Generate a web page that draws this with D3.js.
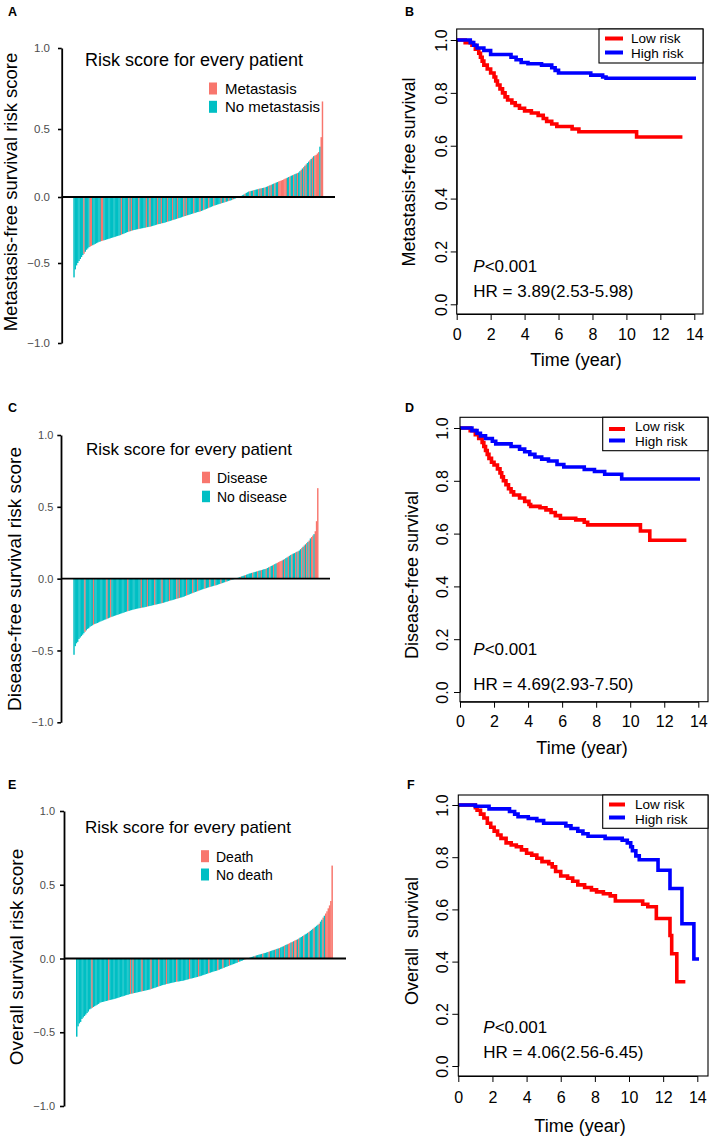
<!DOCTYPE html>
<html><head><meta charset="utf-8">
<script src="https://cdn.jsdelivr.net/npm/d3@7"></script>
<style>
body{margin:0;background:#fff}
svg{display:block}
text{font-family:"Liberation Sans",Arial,Helvetica,sans-serif}
</style>
</head><body>
<svg id="c" width="709" height="1138"></svg>
<script>
// ---------------- DATA ----------------
const scoreTicks = [-1, -0.5, 0, 0.5, 1];
const scoreTickLabels = ["\u22121.0", "\u22120.5", "0.0", "0.5", "1.0"];
const kmXTicks = [0, 2, 4, 6, 8, 10, 12, 14];
const kmYTicks = [0, 0.2, 0.4, 0.6, 0.8, 1.0];
const kmYTickLabels = ["0.0", "0.2", "0.4", "0.6", "0.8", "1.0"];

// Panel A: metastasis-free survival risk score (sorted patients)
const riskA = [-0.59,-0.54,-0.515,-0.5,-0.485,-0.47,-0.455,-0.44,-0.43,-0.415,-0.40,-0.39,-0.38,-0.375,-0.37,-0.365,-0.36,-0.355,-0.35,-0.345,-0.34,
-0.337,-0.334,-0.331,-0.328,-0.325,-0.322,-0.319,-0.316,-0.313,-0.31,-0.307,-0.304,-0.301,-0.298,
-0.295,-0.292,-0.289,-0.285,-0.281,-0.277,-0.273,-0.269,-0.265,-0.262,-0.259,-0.256,-0.253,-0.25,
-0.248,-0.246,-0.244,-0.242,-0.24,-0.238,-0.236,-0.234,-0.232,-0.23,-0.228,-0.226,-0.225,
-0.222,-0.219,-0.216,-0.213,-0.21,-0.207,-0.205,-0.203,-0.2,-0.198,-0.196,-0.193,-0.19,
-0.187,-0.184,-0.181,-0.178,-0.175,-0.172,-0.169,-0.166,-0.163,-0.16,-0.157,-0.154,-0.15,
-0.147,-0.144,-0.141,-0.138,-0.135,-0.132,-0.129,-0.126,-0.123,-0.12,-0.117,-0.114,-0.112,-0.11,
-0.106,-0.102,-0.098,-0.094,-0.09,-0.086,-0.082,-0.078,-0.074,-0.07,-0.066,-0.063,-0.06,
-0.057,-0.054,-0.051,-0.048,-0.045,-0.042,-0.039,-0.036,-0.033,-0.03,-0.027,-0.024,-0.02,
-0.016,-0.012,-0.008,-0.005,-0.002,
0.003,0.008,0.013,0.018,0.024,0.03,0.035,0.04,
0.042,0.045,0.047,0.05,0.052,0.055,0.057,0.06,0.062,0.064,0.066,0.068,0.07,
0.074,0.078,0.082,0.086,0.09,0.094,0.098,0.102,0.106,0.11,0.114,0.118,0.121,0.125,
0.129,0.134,0.138,0.142,0.147,0.151,0.156,0.16,
0.164,0.168,0.172,0.176,0.18,
0.19,0.2,0.21,0.22,0.23,0.24,0.25,0.26,
0.27,0.28,0.29,0.3,0.305,0.31,0.32,
0.33,0.37,0.44,0.67];
const eventsA = [8,13,14,22,23,38,44,46,52,58,61,67,70,75,79,83,88,90,96,101,104,108,112,118,121,124,127,130,
137,141,144,148,150,153,156,158,161,164,165,166,167,168,169,170,173,176,179,182,184,186,189,191,193,194,195,196,198,199];

// Panel C: disease-free survival risk score
const riskC = [-0.53,-0.47,-0.45,-0.44,-0.42,-0.41,-0.40,-0.39,-0.38,-0.37,-0.36,-0.35,-0.345,-0.335,-0.33,
-0.325,-0.32,-0.315,-0.312,-0.309,-0.305,-0.30,
-0.297,-0.293,-0.29,-0.286,-0.283,-0.279,-0.276,-0.272,-0.268,-0.265,-0.262,-0.259,-0.256,-0.253,
-0.25,-0.247,-0.244,-0.241,-0.238,-0.235,-0.232,-0.229,-0.226,-0.224,-0.221,-0.219,-0.216,-0.214,
-0.212,-0.21,-0.208,-0.206,-0.205,-0.203,-0.201,-0.2,-0.198,-0.196,-0.194,-0.192,-0.19,
-0.188,-0.186,-0.184,-0.182,-0.18,-0.178,-0.176,-0.174,-0.172,-0.17,-0.168,-0.165,-0.162,-0.16,
-0.157,-0.155,-0.152,-0.15,-0.147,-0.145,-0.142,-0.14,-0.137,-0.135,-0.132,-0.13,-0.127,
-0.124,-0.12,-0.117,-0.113,-0.11,-0.106,-0.103,-0.1,-0.096,-0.093,-0.09,-0.087,-0.083,-0.08,
-0.077,-0.074,-0.071,-0.069,-0.066,-0.063,-0.06,-0.058,-0.055,-0.053,-0.05,-0.048,-0.046,
-0.043,-0.04,-0.037,-0.034,-0.031,-0.028,-0.025,-0.022,-0.019,-0.016,-0.013,-0.01,-0.007,
-0.005,-0.003,-0.001,
0.003,0.006,0.01,0.013,0.016,0.019,0.022,0.025,0.028,0.031,0.035,
0.037,0.04,0.042,0.045,0.047,0.05,0.052,0.055,0.057,0.06,0.062,0.065,0.067,0.07,
0.074,0.079,0.083,0.088,0.092,0.097,0.101,0.106,0.11,0.115,0.119,0.123,0.127,
0.132,0.137,0.143,0.148,0.154,0.159,0.165,0.17,
0.174,0.178,0.183,0.187,0.191,0.196,
0.205,0.214,0.222,0.231,0.239,0.248,0.256,0.265,
0.28,0.29,0.3,0.31,
0.33,0.40,0.63];
const eventsC = [9,16,27,30,44,55,60,66,72,78,84,86,92,97,101,107,111,115,120,124,128,136,140,146,150,153,157,160,163,
166,167,168,169,170,172,175,178,181,183,186,188,190,192,194,195,197,198,199];

// Panel E: overall survival risk score
const riskE = [-0.53,-0.46,-0.44,-0.43,-0.41,-0.40,-0.39,-0.38,-0.37,-0.36,-0.345,-0.34,
-0.335,-0.329,-0.323,-0.318,-0.313,-0.308,-0.30,
-0.297,-0.295,-0.293,-0.29,-0.288,-0.286,-0.283,-0.281,-0.279,-0.277,-0.275,-0.272,-0.27,
-0.267,-0.264,-0.261,-0.258,-0.256,-0.253,-0.25,-0.247,-0.245,-0.242,-0.24,-0.238,-0.236,
-0.234,-0.232,-0.23,-0.228,-0.226,-0.224,-0.222,-0.22,-0.218,-0.216,-0.214,-0.212,-0.21,
-0.207,-0.204,-0.201,-0.198,-0.195,-0.192,-0.189,-0.186,-0.183,-0.18,-0.178,-0.176,-0.173,
-0.171,-0.169,-0.167,-0.165,-0.163,-0.161,-0.159,-0.157,-0.156,-0.155,-0.153,-0.152,-0.15,
-0.148,-0.145,-0.143,-0.141,-0.138,-0.136,-0.134,-0.132,-0.129,-0.127,-0.125,-0.122,-0.12,
-0.117,-0.114,-0.111,-0.108,-0.105,-0.102,-0.099,-0.096,-0.093,-0.09,-0.087,-0.085,-0.083,
-0.079,-0.076,-0.072,-0.069,-0.065,-0.062,-0.058,-0.055,-0.051,-0.048,-0.045,-0.041,-0.038,
-0.035,-0.031,-0.028,-0.024,-0.021,-0.017,-0.014,-0.01,-0.007,-0.004,-0.001,
0.003,0.006,0.009,0.012,0.015,0.018,0.021,0.023,0.026,0.028,0.031,0.033,0.036,0.038,
0.041,0.044,0.047,0.05,0.053,0.056,0.059,0.062,0.065,0.068,0.071,0.075,0.079,
0.083,0.088,0.092,0.096,0.1,0.104,0.109,0.113,0.117,0.122,0.126,0.13,0.135,
0.141,0.146,0.152,0.157,0.163,0.168,0.174,0.18,
0.187,0.194,0.201,0.208,0.215,0.222,0.229,0.236,
0.25,0.263,0.277,0.29,
0.305,0.32,0.34,
0.36,0.39,
0.63];
const eventsE = [12,25,42,44,51,58,64,70,78,88,95,103,110,114,119,126,131,139,145,150,155,158,162,165,166,168,170,171,173,
177,181,185,189,192,194,195,196,197,198,199];

// Kaplan-Meier curves: [time (year), survival]
const lowB = [[0,1],[0.5,0.99],[0.9,0.98],[1.1,0.965],[1.3,0.95],[1.4,0.935],[1.5,0.92],[1.6,0.905],[1.8,0.89],[2.0,0.875],[2.2,0.86],[2.3,0.845],[2.4,0.83],[2.55,0.815],[2.7,0.8],[2.85,0.785],[3.0,0.773],[3.25,0.762],[3.45,0.752],[3.7,0.742],[4.0,0.732],[4.4,0.724],[4.8,0.715],[5.1,0.703],[5.3,0.692],[5.6,0.682],[5.9,0.673],[6.8,0.663],[7.2,0.653],[10.6,0.633],[13.3,0.633]];
const highB = [[0,1],[0.8,0.99],[1.0,0.98],[1.2,0.97],[1.6,0.96],[2.0,0.945],[3.2,0.935],[3.5,0.925],[3.8,0.915],[4.2,0.91],[5.0,0.905],[5.6,0.895],[5.8,0.885],[6.0,0.875],[7.9,0.867],[8.6,0.86],[8.8,0.855],[14.1,0.855]];
const lowD = [[0,1],[0.6,0.99],[0.9,0.975],[1.1,0.96],[1.3,0.945],[1.4,0.93],[1.5,0.915],[1.6,0.9],[1.7,0.885],[1.85,0.87],[2.0,0.86],[2.2,0.845],[2.35,0.83],[2.45,0.815],[2.55,0.8],[2.7,0.785],[2.85,0.77],[3.0,0.758],[3.15,0.746],[3.5,0.735],[3.8,0.722],[4.05,0.71],[4.15,0.703],[4.7,0.698],[5.05,0.69],[5.35,0.68],[5.6,0.668],[5.9,0.658],[6.8,0.652],[7.3,0.643],[7.5,0.633],[10.6,0.61],[11.15,0.575],[13.3,0.575]];
const highD = [[0,1],[0.7,0.99],[1.0,0.98],[1.2,0.97],[1.5,0.96],[1.9,0.95],[2.1,0.94],[3.0,0.93],[3.5,0.92],[3.8,0.91],[4.1,0.90],[4.4,0.89],[4.8,0.882],[5.2,0.875],[5.7,0.862],[6.1,0.852],[7.3,0.843],[7.9,0.835],[8.5,0.825],[9.5,0.807],[14.1,0.807]];
const lowF = [[0,1],[1.0,0.99],[1.1,0.98],[1.3,0.965],[1.5,0.95],[1.7,0.93],[1.9,0.915],[2.1,0.9],[2.3,0.885],[2.5,0.872],[2.8,0.855],[3.1,0.847],[3.4,0.84],[3.7,0.828],[4.0,0.815],[4.3,0.808],[4.6,0.796],[4.9,0.783],[5.3,0.775],[5.5,0.763],[5.7,0.745],[6.0,0.728],[6.4,0.72],[6.7,0.708],[7.0,0.694],[7.4,0.684],[7.8,0.675],[8.1,0.667],[8.5,0.66],[8.9,0.652],[9.2,0.632],[10.8,0.62],[11.1,0.61],[11.6,0.565],[12.4,0.5],[12.5,0.43],[12.8,0.323],[13.3,0.323]];
const highF = [[0,1],[1.0,0.995],[1.8,0.985],[3.0,0.975],[3.3,0.965],[3.5,0.955],[4.1,0.948],[4.6,0.94],[5.0,0.93],[6.3,0.92],[6.6,0.91],[7.0,0.9],[7.3,0.89],[7.6,0.88],[8.6,0.872],[9.6,0.865],[9.9,0.855],[10.1,0.84],[10.2,0.825],[10.4,0.805],[10.6,0.79],[11.7,0.75],[12.4,0.68],[13.1,0.545],[13.8,0.41],[14.1,0.41]];

const kmLegend = ["Low risk", "High risk"];
const statB = ["P", "<0.001", "HR = 3.89(2.53-5.98)"];
const statD = ["P", "<0.001", "HR = 4.69(2.93-7.50)"];
const statF = ["P", "<0.001", "HR = 4.06(2.56-6.45)"];

// ---------------- DRAW ----------------
const FONT = '"Liberation Sans", Arial, Helvetica, sans-serif';
const TEAL = "#00BFC4", SALMON = "#F8766D";
const svg = d3.select("#c");

function letter(t, x, y) {
  svg.append("text").attr("x", x).attr("y", y).attr("font-weight", "bold")
    .attr("font-size", 12.5).attr("fill", "#000").text(t);
}

function barPanel(o) {
  const g = svg.append("g");
  const y = d3.scaleLinear().domain(o.yDomain).range(o.yRange);
  const x = d3.scaleBand().domain(d3.range(o.values.length)).range([o.x0, o.x1]).padding(0);
  const ev = new Set(o.events);
  g.selectAll("rect.bar").data(o.values).join("rect").attr("class", "bar")
    .attr("x", (d, i) => x(i)).attr("width", x.bandwidth() + 0.2)
    .attr("y", d => Math.min(y(d), y(0))).attr("height", d => Math.abs(y(d) - y(0)))
    .attr("fill", (d, i) => ev.has(i) ? SALMON : TEAL);
  g.append("line").attr("x1", o.axisX).attr("x2", o.zeroEnd).attr("y1", y(0)).attr("y2", y(0))
    .attr("stroke", "#000").attr("stroke-width", 1.8);
  const ax = d3.axisLeft(y).tickValues(scoreTicks).tickFormat((d, i) => scoreTickLabels[i])
    .tickSize(o.tickSize).tickSizeOuter(0).tickPadding(o.tickPad);
  const ga = g.append("g").attr("transform", `translate(${o.axisX},0)`).call(ax)
    .attr("font-family", FONT).attr("font-size", o.tickFont);
  ga.select(".domain").attr("stroke", "#000").attr("stroke-width", 1.8);
  ga.selectAll(".tick line").attr("stroke", "#000").attr("stroke-width", 1.6);
  ga.selectAll(".tick text").attr("fill", "#4D4D4D");
  // y label
  g.append("text").attr("transform", `translate(${o.ylabX},${o.ylabY}) rotate(-90)`)
    .attr("text-anchor", "middle").attr("font-size", o.ylabFont).attr("fill", "#000").text(o.ylab);
  // title
  g.append("text").attr("x", o.titleX).attr("y", o.titleY).attr("font-size", o.titleFont)
    .attr("fill", "#000").text("Risk score for every patient");
  // legend
  const lg = [[SALMON, o.legend[0], o.legY[0]], [TEAL, o.legend[1], o.legY[1]]];
  lg.forEach(([c, t, yy]) => {
    g.append("rect").attr("x", o.legX).attr("y", yy - o.sqH + 0.5).attr("width", 8).attr("height", o.sqH).attr("fill", c);
    g.append("text").attr("x", o.legTX).attr("y", yy).attr("font-size", o.legFont).attr("fill", "#000").text(t);
  });
}

function kmPanel(o) {
  const g = svg.append("g");
  const x = d3.scaleLinear().domain([0, 14]).range(o.xr);
  const y = d3.scaleLinear().domain([0, 1]).range(o.yr);
  const [bx0, by0, bx1, by1] = o.box;
  // curves
  const line = d3.line().x(d => x(d[0])).y(d => y(d[1])).curve(d3.curveStepAfter);
  g.append("path").attr("d", line(o.low)).attr("fill", "none").attr("stroke", "#FF0000").attr("stroke-width", 3.6);
  g.append("path").attr("d", line(o.high)).attr("fill", "none").attr("stroke", "#0000FF").attr("stroke-width", 3.6);
  // box
  g.append("rect").attr("x", bx0).attr("y", by0).attr("width", bx1 - bx0).attr("height", by1 - by0)
    .attr("fill", "none").attr("stroke", "#000").attr("stroke-width", 1.1);
  // x axis
  const xa = d3.axisBottom(x).tickValues(kmXTicks).tickSize(6).tickSizeOuter(0).tickPadding(o.xPad);
  const gx = g.append("g").attr("transform", `translate(0,${by1})`).call(xa)
    .attr("font-family", FONT).attr("font-size", 16);
  gx.select(".domain").attr("stroke", "#000");
  gx.selectAll(".tick line").attr("stroke", "#000");
  gx.selectAll(".tick text").attr("fill", "#000");
  // y axis
  const ya = d3.axisLeft(y).tickValues(kmYTicks).tickFormat((d, i) => kmYTickLabels[i]).tickSize(6).tickSizeOuter(0);
  const gy = g.append("g").attr("transform", `translate(${bx0},0)`).call(ya)
    .attr("font-family", FONT).attr("font-size", 16);
  gy.select(".domain").attr("stroke", "#000");
  gy.selectAll(".tick line").attr("stroke", "#000");
  gy.selectAll(".tick text").attr("fill", "#000").attr("x", null).attr("dy", null)
    .attr("text-anchor", "middle").attr("transform", `translate(${-o.yOff},0) rotate(-90)`);
  // labels
  g.append("text").attr("x", o.xlabX).attr("y", o.xlabY).attr("text-anchor", "middle")
    .attr("font-size", 18).attr("fill", "#000").text("Time (year)");
  g.append("text").attr("transform", `translate(${o.ylabX},${o.ylabY}) rotate(-90)`)
    .attr("text-anchor", "middle").attr("font-size", 18).attr("fill", "#000")
    .style("white-space", "pre").attr("xml:space", "preserve").text(o.ylab);
  // legend
  const [lx0, ly0, lx1, ly1] = o.legBox;
  g.append("rect").attr("x", lx0).attr("y", ly0).attr("width", lx1 - lx0).attr("height", ly1 - ly0)
    .attr("fill", "#fff").attr("stroke", "#000").attr("stroke-width", 1.1);
  [["#FF0000", kmLegend[0], o.legLineY[0], o.legTextY[0]], ["#0000FF", kmLegend[1], o.legLineY[1], o.legTextY[1]]]
    .forEach(([c, t, ly, ty]) => {
      g.append("line").attr("x1", o.legLineX[0]).attr("x2", o.legLineX[1]).attr("y1", ly).attr("y2", ly)
        .attr("stroke", c).attr("stroke-width", 4);
      g.append("text").attr("x", o.legTextX).attr("y", ty).attr("font-size", 13.5).attr("fill", "#000").text(t);
    });
  // stats
  const p = g.append("text").attr("x", o.statX).attr("y", o.pY).attr("font-size", 17).attr("fill", "#000");
  p.append("tspan").attr("font-style", "italic").text(o.stat[0]);
  p.append("tspan").text(o.stat[1]);
  g.append("text").attr("x", o.statX).attr("y", o.hrY).attr("font-size", 17).attr("fill", "#000").text(o.stat[2]);
}

// Letters
letter("A", 8, 15.5); letter("B", 405, 16);
letter("C", 8, 412); letter("D", 405, 412);
letter("E", 8, 788.5); letter("F", 407, 788.5);

barPanel({values: riskA, events: eventsA, yDomain: [-1, -0.5, 0, 0.5, 1], yRange: [343, 263, 197, 129, 48],
  x0: 73.3, x1: 323, axisX: 61.7, zeroEnd: 335, tickSize: 3.7, tickPad: 8, tickFont: 11.5,
  ylab: "Metastasis-free survival risk score", ylabX: 17, ylabY: 192, ylabFont: 18.5,
  titleX: 85, titleY: 65.5, titleFont: 18,
  legend: ["Metastasis", "No metastasis"], legX: 209, legTX: 225, legY: [94, 112.3], sqH: 12, legFont: 15});

barPanel({values: riskC, events: eventsC, yDomain: [-1, 1], yRange: [722.3, 435],
  x0: 73.3, x1: 318.3, axisX: 61, zeroEnd: 330, tickSize: 3.7, tickPad: 4, tickFont: 11,
  ylab: "Disease-free survival risk score", ylabX: 21, ylabY: 579, ylabFont: 19,
  titleX: 86, titleY: 455, titleFont: 17,
  legend: ["Disease", "No disease"], legX: 202, legTX: 217, legY: [482.7, 501.7], sqH: 11.5, legFont: 14});

barPanel({values: riskE, events: eventsE, yDomain: [-1, 1], yRange: [1106, 811],
  x0: 76, x1: 332.7, axisX: 64, zeroEnd: 346, tickSize: 4, tickPad: 5, tickFont: 11,
  ylab: "Overall survival risk score", ylabX: 22.5, ylabY: 957, ylabFont: 19,
  titleX: 85, titleY: 833, titleFont: 17,
  legend: ["Death", "No death"], legX: 201, legTX: 216, legY: [861.7, 880], sqH: 12, legFont: 14});

kmPanel({low: lowB, high: highB, xr: [456.7, 694.3], yr: [304.3, 40], box: [456.7, 29, 703, 314],
  xPad: 8.6, yOff: 9.4, xlabX: 576, xlabY: 366, ylab: "Metastasis-free survival", ylabX: 415, ylabY: 172,
  legBox: [599, 29, 703, 63], legLineX: [605, 623], legLineY: [38.5, 52.5], legTextX: 631, legTextY: [42.8, 58],
  stat: statB, statX: 473.3, pY: 272, hrY: 296.5});

kmPanel({low: lowD, high: highD, xr: [460, 698.3], yr: [692, 428], box: [460, 417.3, 708, 701.7],
  xPad: 7.9, yOff: 11.7, xlabX: 582, xlabY: 754, ylab: "Disease-free survival", ylabX: 418, ylabY: 575,
  legBox: [602.7, 417.3, 708, 450.7], legLineX: [609, 625], legLineY: [429, 440.5], legTextX: 635, legTextY: [430.5, 445.5],
  stat: statD, statX: 473.3, pY: 655, hrY: 690});

kmPanel({low: lowF, high: highF, xr: [458.3, 697.3], yr: [1066, 805], box: [458.3, 795, 708, 1076],
  xPad: 9.6, yOff: 10, xlabX: 580, xlabY: 1132, ylab: "Overall  survival", ylabX: 418, ylabY: 941,
  legBox: [602.7, 795, 708, 828.3], legLineX: [609, 625], legLineY: [804.5, 817.5], legTextX: 635, legTextY: [808.5, 824],
  stat: statF, statX: 483.3, pY: 1033, hrY: 1058});
</script>
</body></html>
